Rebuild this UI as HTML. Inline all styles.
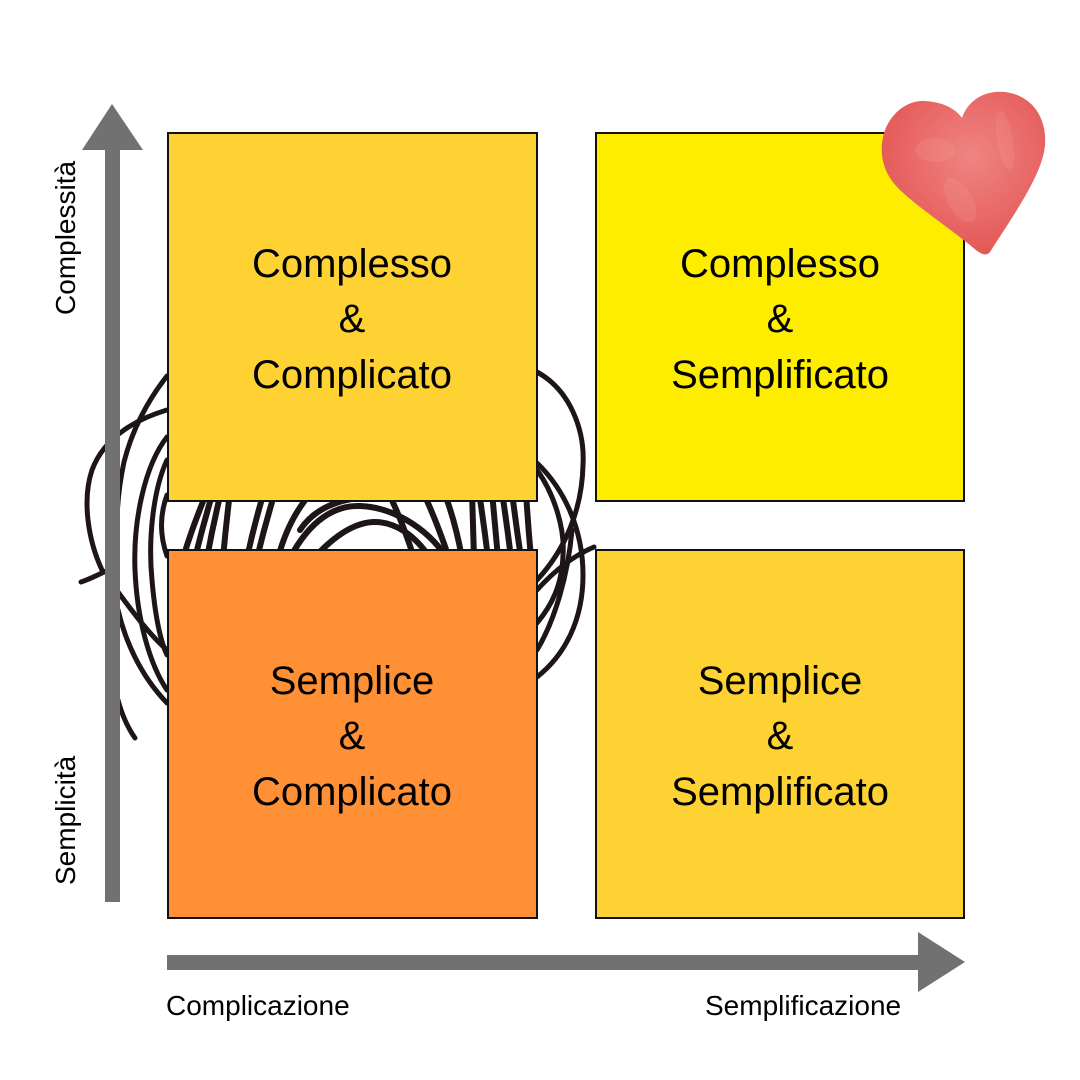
<!DOCTYPE html>
<html><head><meta charset="utf-8"><style>
html,body{margin:0;padding:0;background:#fff;}
svg{display:block;}
text{font-family:"Liberation Sans",Arial,sans-serif;fill:#000;}
</style></head><body>
<svg width="1080" height="1080" viewBox="0 0 1080 1080" xmlns="http://www.w3.org/2000/svg">
<defs>
<radialGradient id="hg" cx="0.55" cy="0.4" r="0.65">
<stop offset="0" stop-color="#EE8482"/>
<stop offset="0.55" stop-color="#E96A68"/>
<stop offset="1" stop-color="#E05552"/>
</radialGradient>
</defs>
<rect width="1080" height="1080" fill="#fff"/>

<!-- scribble -->
<g fill="none" stroke="#1d1517" stroke-width="5" stroke-linecap="round">
<!-- left region -->
<path d="M167,376 C148,400 132,430 124,462 C118,490 116,520 117,545"/>
<path d="M167,410 C140,418 105,435 92,470 C82,500 88,540 102,570"/>
<path d="M81,582 C90,579 98,575 108,570"/>
<path d="M167,437 C145,465 133,520 135,570 C137,620 150,665 167,690"/>
<path d="M167,460 C153,490 148,540 152,580 C155,615 160,640 167,655"/>
<path d="M118,592 C135,615 150,635 167,650"/>
<path d="M118,610 C125,640 140,675 167,703"/>
<path d="M118,700 C122,715 128,728 135,738"/>
<path d="M167,495 Q156,525 167,556"/>
<!-- right region -->
<path d="M537,372 C570,390 585,430 583,465 C582,510 565,550 537,580"/>
<path d="M537,463 C565,490 583,530 583,575 C583,620 565,655 537,677"/>
<path d="M537,470 C555,495 565,530 563,555 C562,585 552,605 537,623"/>
<path d="M537,590 C555,570 575,555 594,547"/>
<path d="M537,650 C555,620 568,575 572,530"/>
</g>
<g fill="none" stroke="#1d1517" stroke-width="6" stroke-linecap="round">
<!-- gap strokes -->
<path d="M183,558 Q193,525 207,492"/>
<path d="M195,558 Q203,525 213,492"/>
<path d="M207,558 Q213,525 221,492"/>
<path d="M223,558 Q226,525 230,492"/>
<path d="M247,558 Q254,525 264,492"/>
<path d="M257,558 Q265,525 275,492"/>
<path d="M278,558 Q288,520 310,494"/>
<path d="M290,558 C310,520 335,505 360,506 C390,507 425,525 447,558"/>
<path d="M314,558 C335,535 355,522 375,522 C395,522 415,535 430,558"/>
<path d="M300,530 C320,500 360,493 400,499"/>
<path d="M388,492 Q402,520 414,558"/>
<path d="M423,492 Q437,522 449,558"/>
<path d="M444,492 Q455,520 462,558"/>
<path d="M472,492 Q473,525 474,558"/>
<path d="M479,492 Q484,525 488,558"/>
<path d="M492,492 Q495,525 498,558"/>
<path d="M502,492 Q507,525 511,558"/>
<path d="M512,492 Q516,525 521,558"/>
<path d="M526,492 Q528,525 531,558"/>
</g>

<!-- boxes -->
<rect x="168" y="133" width="369" height="368" fill="#FED233" stroke="#111" stroke-width="2"/>
<rect x="596" y="133" width="368" height="368" fill="#FFED00" stroke="#111" stroke-width="2"/>
<rect x="168" y="550" width="369" height="368" fill="#FF9035" stroke="#111" stroke-width="2"/>
<rect x="596" y="550" width="368" height="368" fill="#FED233" stroke="#111" stroke-width="2"/>

<g font-size="40" text-anchor="middle">
<text x="352" y="277">Complesso</text>
<text x="352" y="332">&amp;</text>
<text x="352" y="388">Complicato</text>
<text x="780" y="277">Complesso</text>
<text x="780" y="332">&amp;</text>
<text x="780" y="388">Semplificato</text>
<text x="352" y="694">Semplice</text>
<text x="352" y="749">&amp;</text>
<text x="352" y="805">Complicato</text>
<text x="780" y="694">Semplice</text>
<text x="780" y="749">&amp;</text>
<text x="780" y="805">Semplificato</text>
</g>

<!-- heart -->
<path d="M962,118 C968,100 985,90 1005,92 C1030,95 1047,115 1045,145 C1043,175 1010,220 990,252 C985,258 978,252 970,245 C945,225 915,205 898,188 C882,172 878,150 885,130 C893,110 910,100 925,101 C942,102 955,108 962,118 Z" fill="url(#hg)"/>
<g fill="#F6A3A0" opacity="0.2">
<ellipse cx="1005" cy="140" rx="8" ry="30" transform="rotate(-10 1005 140)"/>
<ellipse cx="935" cy="150" rx="20" ry="12"/>
<ellipse cx="960" cy="200" rx="12" ry="25" transform="rotate(-30 960 200)"/>
</g>

<!-- arrows -->
<rect x="105" y="148" width="15" height="754" fill="#717171"/>
<polygon points="112,104 82,150 143,150" fill="#717171"/>
<rect x="167" y="955" width="753" height="15" fill="#717171"/>
<polygon points="918,932 965,962 918,992" fill="#717171"/>

<!-- axis labels -->
<text font-size="28" transform="translate(75,315) rotate(-90)">Complessità</text>
<text font-size="28" transform="translate(75,885) rotate(-90)">Semplicità</text>
<text font-size="28" x="166" y="1015">Complicazione</text>
<text font-size="28" x="705" y="1015">Semplificazione</text>
</svg>
</body></html>
